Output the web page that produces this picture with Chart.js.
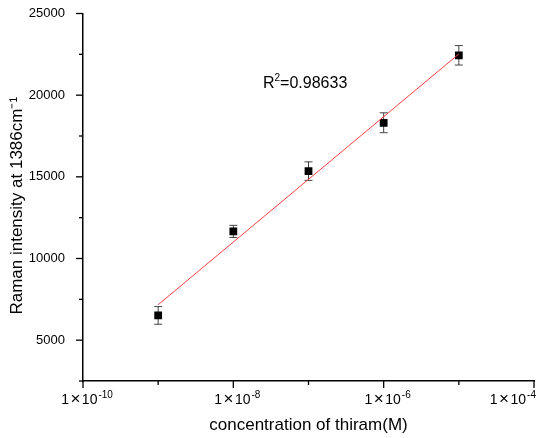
<!DOCTYPE html>
<html>
<head>
<meta charset="utf-8">
<script src="https://cdn.jsdelivr.net/npm/chart.js@4.4.1/dist/chart.umd.min.js"></script>
<style>
  html, body { margin: 0; padding: 0; background: #fff; }
  #wrap { width: 550px; height: 438px; }
</style>
</head>
<body>
<div id="wrap"><canvas id="chart"></canvas></div>
<script>
/* --------------- Data --------------------- */
const concentrations = [1e-9, 1e-8, 1e-7, 1e-6, 1e-5];
const intensities = [6515, 11660, 15350, 18310, 22440];
const errors = [540, 370, 565, 610, 595];
const fitX = [1e-9, 1e-5];
const fitY = [7170, 22520];
const xTickValues = [1e-10, 1e-9, 1e-8, 1e-7, 1e-6, 1e-5, 1e-4];
const xTickExponents = ["-10", "", "-8", "", "-6", "", "-4"];
const yTickLabels = [5000, 10000, 15000, 20000, 25000];
const r2Text = "0.98633";

const FONT = "'Liberation Sans', Arial, sans-serif";

/* --------------- Tick marks, x labels, R^2 --------------------- */
const axisExtras = {
  id: "axisExtras",
  afterDraw(chart) {
    const ctx = chart.ctx;
    const xs = chart.scales.x, ys = chart.scales.y;
    const area = chart.chartArea;
    ctx.save();
    ctx.strokeStyle = "#000";
    ctx.lineWidth = 1.3;
    xTickValues.forEach((v, i) => {
      const px = xs.getPixelForValue(v);
      const len = xTickExponents[i] ? 7 : 4;
      ctx.beginPath();
      ctx.moveTo(px, area.bottom);
      ctx.lineTo(px, area.bottom + len);
      ctx.stroke();
    });
    ys.ticks.forEach((t) => {
      const py = ys.getPixelForValue(t.value);
      const len = yTickLabels.includes(t.value) ? 7 : 4;
      ctx.beginPath();
      ctx.moveTo(area.left, py);
      ctx.lineTo(area.left - len, py);
      ctx.stroke();
    });

    /* x tick labels: 1×10 with superscript exponent */
    ctx.fillStyle = "#000";
    ctx.textBaseline = "alphabetic";
    ctx.textAlign = "left";
    const base = area.bottom + 23;
    xTickValues.forEach((v, i) => {
      const exp = xTickExponents[i];
      if (!exp) return;
      ctx.font = "14px " + FONT;
      const w1 = ctx.measureText("1").width;
      const w10 = ctx.measureText("10").width;
      ctx.font = "17px " + FONT;
      const wx = ctx.measureText("×").width;
      ctx.font = "10px " + FONT;
      const we = ctx.measureText(exp).width;
      const total = w1 + wx + w10 + we + 4;
      const px = xs.getPixelForValue(v);
      let x = i === xTickValues.length - 1 ? px + 2 - total : px + 4 - total / 2;
      ctx.font = "14px " + FONT;
      ctx.fillText("1", x, base);
      x += w1 + 1.5;
      ctx.font = "17px " + FONT;
      ctx.fillText("×", x, base);
      x += wx + 1.5;
      ctx.font = "14px " + FONT;
      ctx.fillText("10", x, base);
      x += w10 + 1;
      ctx.font = "10px " + FONT;
      ctx.fillText(exp, x, base - 6);
    });

    /* R^2 label */
    let x = 263, y = 88;
    ctx.font = "16px " + FONT;
    ctx.fillText("R", x, y);
    x += ctx.measureText("R").width;
    ctx.font = "10px " + FONT;
    ctx.fillText("2", x, y - 7);
    x += ctx.measureText("2").width;
    ctx.font = "16px " + FONT;
    ctx.fillText("=" + r2Text, x, y);
    ctx.restore();
  },
};

/* --------------- Error bars --------------------- */
const errorBars = {
  id: "errorBars",
  beforeDatasetsDraw(chart) {
    const ctx = chart.ctx;
    const xs = chart.scales.x, ys = chart.scales.y;
    ctx.save();
    ctx.strokeStyle = "#444";
    ctx.lineWidth = 1;
    concentrations.forEach((c, i) => {
      const px = xs.getPixelForValue(c);
      const top = ys.getPixelForValue(intensities[i] + errors[i]);
      const bot = ys.getPixelForValue(intensities[i] - errors[i]);
      ctx.beginPath();
      ctx.moveTo(px, top); ctx.lineTo(px, bot);
      ctx.moveTo(px - 4, top); ctx.lineTo(px + 4, top);
      ctx.moveTo(px - 4, bot); ctx.lineTo(px + 4, bot);
      ctx.stroke();
    });
    ctx.restore();
  },
};

/* --------------- Chart --------------------- */
const chart = new Chart(document.getElementById("chart"), {
  plugins: [errorBars, axisExtras],
  data: {
    datasets: [
      {
        type: "line",
        data: fitX.map((x, i) => ({ x: x, y: fitY[i] })),
        borderColor: "#ff4040",
        borderWidth: 1,
        pointRadius: 0,
        fill: false,
        order: 1,
      },
      {
        type: "scatter",
        data: concentrations.map((x, i) => ({ x: x, y: intensities[i] })),
        pointStyle: "rect",
        pointRadius: 5.5,
        backgroundColor: "#000",
        borderColor: "#000",
        borderWidth: 0,
        order: 2,
      },
    ],
  },
  options: {
    responsive: true,
    maintainAspectRatio: false,
    animation: false,
    layout: { padding: { top: 13.5, right: 16, left: 0, bottom: 0 } },
    plugins: { legend: { display: false }, tooltip: { enabled: false } },
    scales: {
      x: {
        type: "logarithmic",
        min: 1e-10,
        max: 1e-4,
        afterBuildTicks: (scale) => {
          scale.ticks = xTickValues.map((v) => ({ value: v }));
        },
        afterFit: (scale) => {
          scale.height = 57;
          scale.paddingLeft = 0;
          scale.paddingRight = 0;
        },
        grid: { display: false },
        border: { display: true, color: "#000", width: 1.5 },
        ticks: { display: false },
        title: {
          display: true,
          text: "concentration of thiram(M)",
          color: "#000",
          font: { family: FONT, size: 17 },
          padding: { top: 0, bottom: 2 },
        },
      },
      y: {
        min: 2500,
        max: 25000,
        afterFit: (scale) => {
          scale.width = 83;
          scale.paddingTop = 0;
          scale.paddingBottom = 0;
        },
        grid: { display: false },
        border: { display: true, color: "#000", width: 1.5 },
        ticks: {
          stepSize: 2500,
          padding: 10,
          color: "#000",
          font: { family: FONT, size: 13 },
          callback: (v) => (yTickLabels.includes(v) ? String(v) : ""),
        },
        title: {
          display: true,
          text: "Raman intensity at 1386cm⁻¹\u2003",
          color: "#000",
          font: { family: FONT, size: 17 },
          padding: { top: 7, bottom: 0 },
        },
      },
    },
  },
});
</script>
</body>
</html>
